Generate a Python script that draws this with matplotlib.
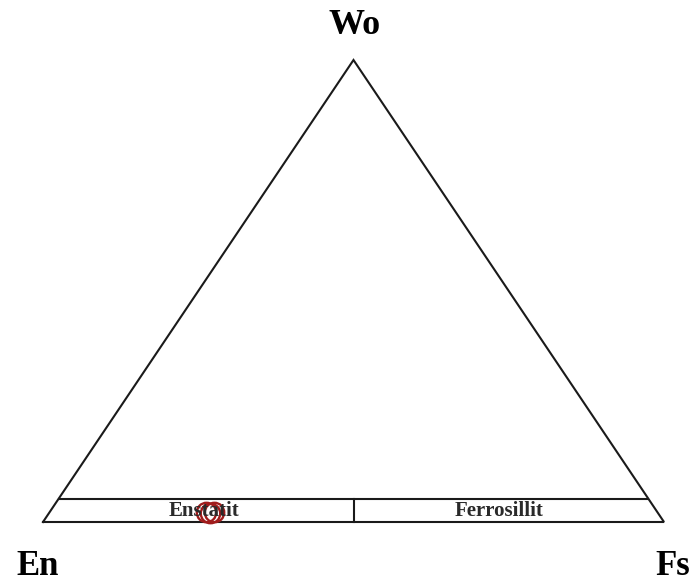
import matplotlib.pyplot as plt
import numpy as np

# ternary endmembers (percent)
apexes = ['Wo', 'En', 'Fs']
fields = ['Enstatit', 'Ferrosillit']
wo_limit = 5      # lower band of the pyroxene quadrilateral
fs_split = 50     # En / Fs boundary

# sample compositions (Wo, En, Fs)
wo = [2.1, 2.0, 2.1]
en = [72.7, 72.1, 71.4]
fs = [25.2, 25.9, 26.5]


def tern(w, f):
    w = np.asarray(w, dtype=float)
    f = np.asarray(f, dtype=float)
    return f + w / 2.0, w


fig = plt.figure(figsize=(6.97, 5.84), dpi=100)
ax = fig.add_axes([43 / 697, (584 - 522) / 584, 621 / 697, 462 / 584])
ax.set_xlim(0, 100)
ax.set_ylim(0, 100)
ax.axis('off')

lc = '#1a1a1a'
lw = 1.5

# outer triangle
tx, ty = tern([0, 0, 100, 0], [0, 100, 0, 0])
ax.plot(tx, ty, color=lc, lw=lw, clip_on=False, solid_joinstyle='miter')

# Wo = 5 line and En/Fs split
bx, by = tern([wo_limit, wo_limit], [0, 100 - wo_limit])
ax.plot(bx, by, color=lc, lw=lw, clip_on=False)
sx, sy = tern([0, wo_limit], [fs_split, fs_split - wo_limit / 2])
ax.plot(sx, sy, color=lc, lw=lw, clip_on=False)

# field labels
font = ['Liberation Serif', 'DejaVu Serif']
ax.text(26.0, 2.4, fields[0], ha='center', va='center', fontsize=15,
        fontweight='bold', family=font, color='#2a2a2a')
ax.text(73.4, 2.4, fields[1], ha='center', va='center', fontsize=15,
        fontweight='bold', family=font, color='#2a2a2a')

# apex labels
ax.text(50.2, 107.4, apexes[0], ha='center', va='center', fontsize=26,
        fontweight='bold', family=font, clip_on=False)
ax.text(-0.8, -11.4, apexes[1], ha='center', va='baseline', fontsize=25,
        fontweight='bold', family=font, clip_on=False)
ax.text(101.4, -11.4, apexes[2], ha='center', va='baseline', fontsize=25,
        fontweight='bold', family=font, clip_on=False)

# samples
px, py = tern(wo, fs)
ax.plot(px, py, 'o', ms=14, mfc='none', mec='#a01c1c', mew=1.7, clip_on=False)

fig.savefig('out.png', dpi=100, facecolor='white')
